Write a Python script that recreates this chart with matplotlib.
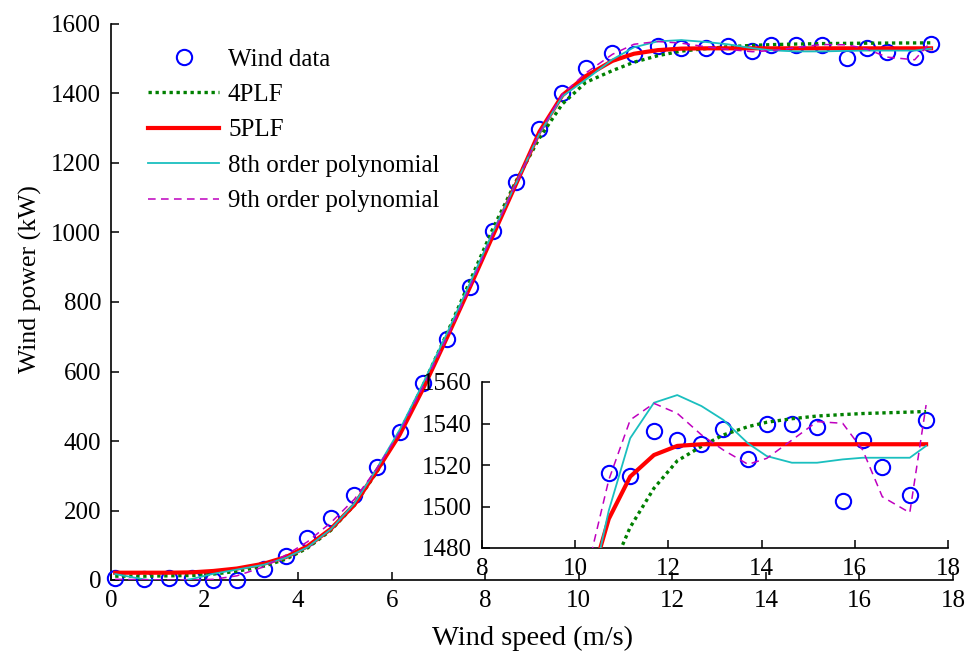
import numpy as np
import matplotlib
matplotlib.use("Agg")
import matplotlib.pyplot as plt

plt.rcParams["font.family"] = ["Liberation Serif", "DejaVu Serif"]
plt.rcParams["mathtext.fontset"] = "stix"

# wind speed (m/s) of measured points
speed = [0.09, 0.70, 1.23, 1.73, 2.19, 2.69, 3.27, 3.74, 4.20, 4.70, 5.20, 5.68,
         6.17, 6.67, 7.19, 7.68, 8.16, 8.66, 9.16, 9.65, 10.15, 10.72, 11.18,
         11.69, 12.19, 12.71, 13.18, 13.71, 14.11, 14.65, 15.19, 15.74, 16.17,
         16.59, 17.18, 17.53]
# measured wind power (kW)
power = [5, 4, 5, 5, -1, -1, 33, 70, 120, 179, 245, 326,
         427, 566, 693, 842, 1004, 1144, 1298, 1400, 1472, 1516, 1514.7,
         1536.4, 1532, 1530, 1537.2, 1522.7, 1540, 1540, 1538.2, 1502.8, 1531.9,
         1519, 1505.4, 1541.7]

# fitted curves evaluated at the same speeds
fit_4plf = [11, 11, 12, 13, 17, 25, 40, 60, 92, 143, 215, 310,
            425, 560, 712, 862, 1010, 1148, 1272, 1370, 1432, 1466, 1490,
            1508.8, 1522, 1529, 1534.5, 1538.5, 1540.6, 1542.3, 1543.6, 1544.3, 1544.8,
            1545.1, 1545.5, 1545.8]
fit_5plf = [21, 21, 21, 22, 26, 33, 47, 66, 97, 147, 216, 314,
            418, 550, 700, 845, 990, 1140, 1290, 1395, 1450, 1494, 1514.4,
            1524.8, 1529.2, 1530, 1530, 1530, 1530, 1530, 1530, 1530, 1530,
            1530, 1530, 1530]
fit_poly8 = [17, 2, -7, 3, 18, 30, 44, 64, 94, 146, 220, 320,
             432, 566, 712, 856, 1000, 1142, 1285, 1392, 1440, 1498, 1532.9,
             1550, 1553.7, 1548.4, 1541.7, 1530.4, 1524.3, 1521.1, 1521.1, 1522.7, 1523.5,
             1523.5, 1523.5, 1529.2]
fit_poly9 = [2, 1, 0, 0, 2, 12, 38, 72, 110, 165, 232, 320,
             425, 556, 700, 845, 995, 1140, 1288, 1398, 1459, 1512.8, 1541.7,
             1549.7, 1544.9, 1534.5, 1527.2, 1520.3, 1523.2, 1532, 1540.9, 1540.1, 1527.2,
             1504.7, 1497, 1548.9]

labels = ["Wind data", "4PLF", "5PLF", "8th order polynomial", "9th order polynomial"]
c_green = (0, 0.5, 0)
c_cyan = (0.1, 0.75, 0.75)
c_mag = (0.75, 0, 0.75)


def draw(ax, marker_clip=True):
    ax.plot(speed, power, "o", ms=11, mfc="none", mec="blue", mew=1.5,
            clip_on=marker_clip, label=labels[0], zorder=3)
    ax.plot(speed, fit_4plf, color=c_green, lw=2.4, ls=(0, (1, 1.1)), label=labels[1], zorder=4)
    ax.plot(speed, fit_5plf, color="red", lw=3, label=labels[2], zorder=5)
    ax.plot(speed, fit_poly8, color=c_cyan, lw=1.3, label=labels[3], zorder=6)
    ax.plot(speed, fit_poly9, color=c_mag, lw=1.1, ls=(0, (5, 3.5)), label=labels[4], zorder=7)


def style(ax, fs):
    for s in ("top", "right"):
        ax.spines[s].set_visible(False)
    for s in ("left", "bottom"):
        ax.spines[s].set_linewidth(1.2)
    ax.tick_params(direction="in", length=6, width=1.1, labelsize=fs, pad=7)


fig = plt.figure(figsize=(9.66, 6.55), dpi=100)
ax = fig.add_axes([111 / 966, 1 - 580 / 655, 842 / 966, 556 / 655])
draw(ax, marker_clip=False)
ax.set_xlim(0, 18)
ax.set_ylim(0, 1600)
ax.set_xticks(np.arange(0, 19, 2))
ax.set_yticks(np.arange(0, 1601, 200))
style(ax, 18)
ax.set_xlabel("Wind speed (m/s)", fontsize=20.5, labelpad=10)
ax.set_ylabel("Wind power (kW)", fontsize=18.5)
ax.yaxis.set_label_coords(-0.082, 0.541)
ax.legend(loc="upper left", bbox_to_anchor=(148 / 966, 1 - 48 / 655),
          bbox_transform=fig.transFigure, frameon=False, fontsize=18,
          numpoints=1, handlelength=2.85, handletextpad=0.35,
          labelspacing=0.52, borderpad=0, borderaxespad=0)

ins = fig.add_axes([482 / 966, 1 - 548 / 655, 466 / 966, 166 / 655])
ins.patch.set_alpha(0)
draw(ins)
ins.set_xlim(8, 18)
ins.set_ylim(1480, 1560)
ins.set_xticks(np.arange(8, 19, 2))
ins.set_yticks(np.arange(1480, 1561, 20))
style(ins, 18)

fig.savefig("out.png", dpi=100)
